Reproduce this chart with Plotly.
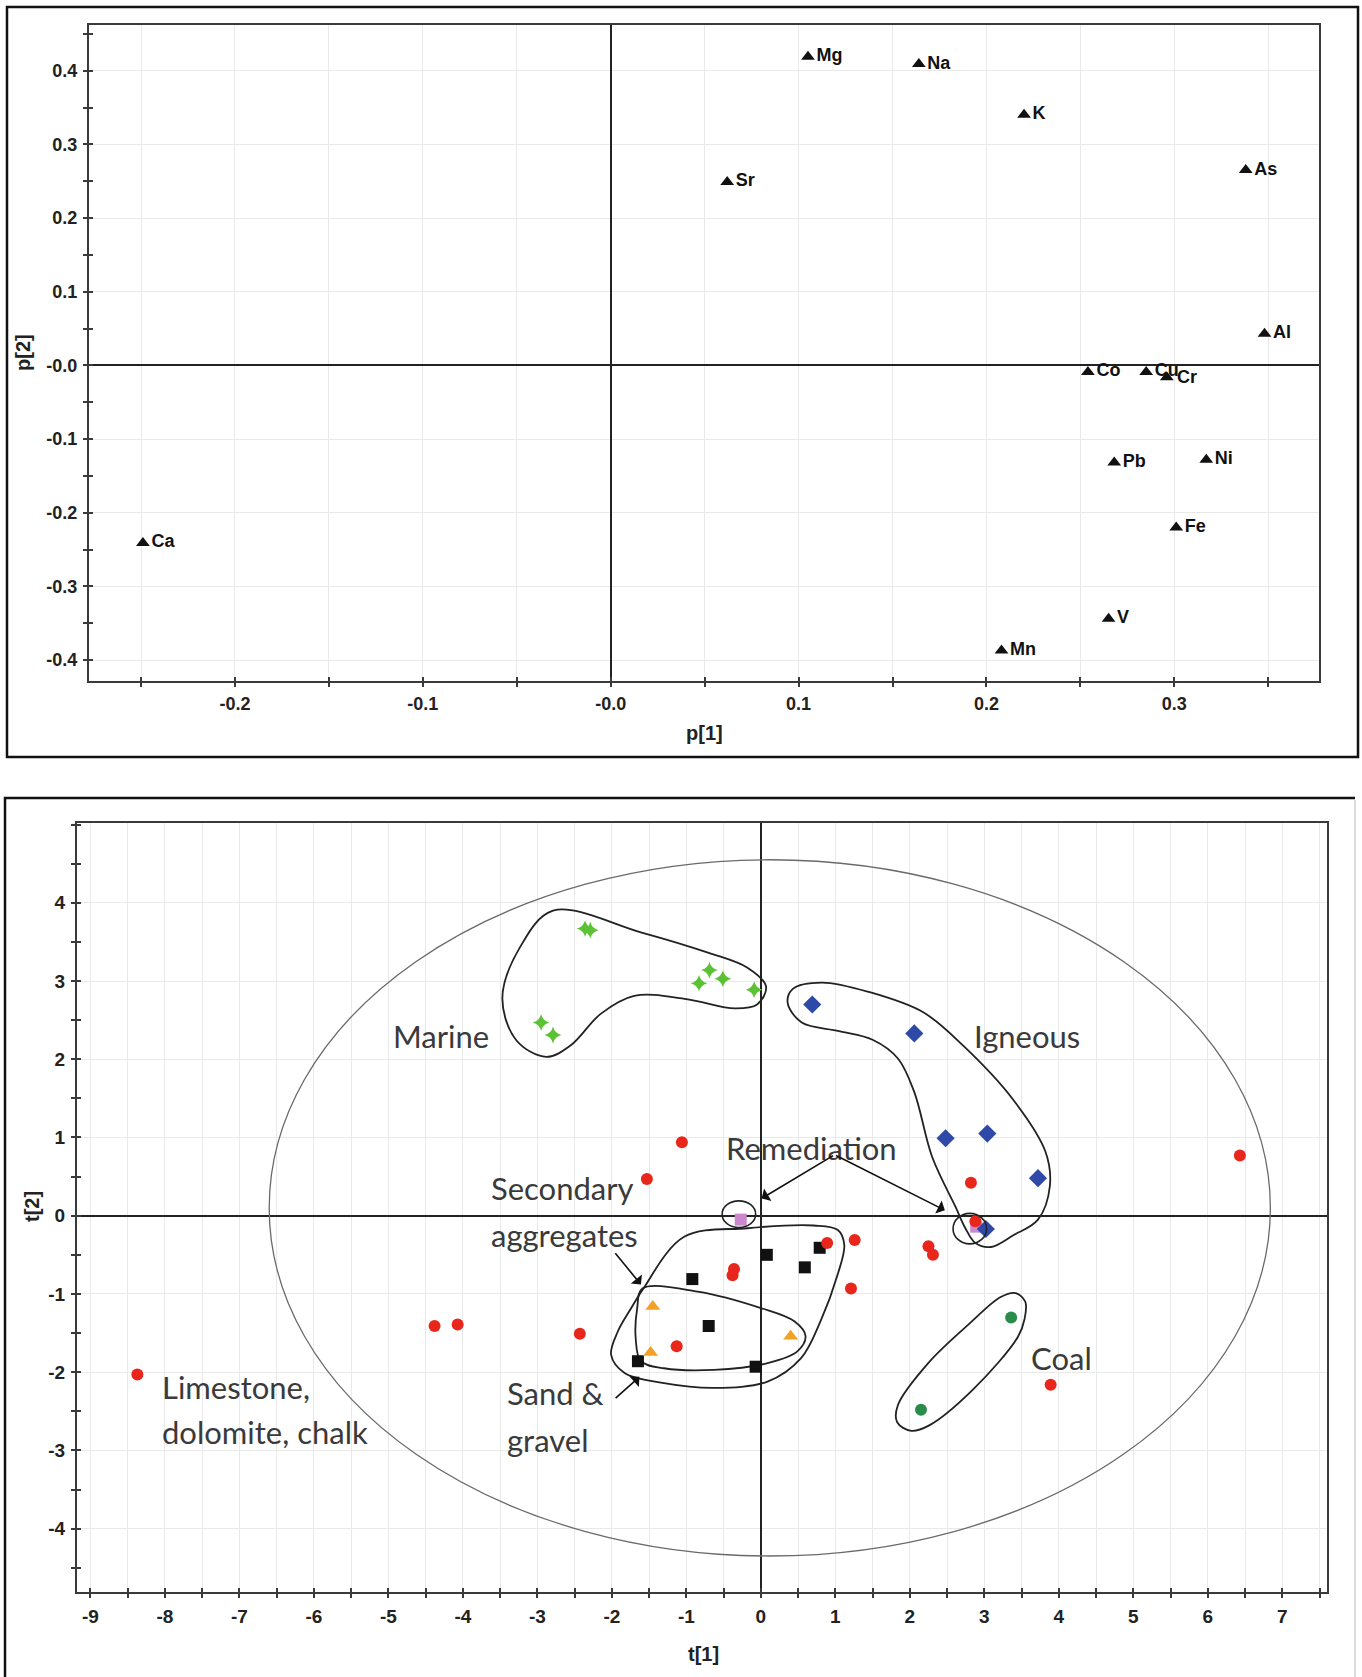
import plotly.graph_objects as go

# ---------------- Loadings (p[1] vs p[2]) ----------------
element_labels = ["Mg", "Na", "K", "Sr", "As", "Al", "Co", "Cu", "Cr", "Pb", "Ni", "Fe", "V", "Mn", "Ca"]
p1_values = [0.105, 0.164, 0.220, 0.062, 0.338, 0.348, 0.254, 0.285, 0.296, 0.268, 0.317, 0.301, 0.265, 0.208, -0.249]
p2_values = [0.419, 0.409, 0.340, 0.249, 0.265, 0.043, -0.009, -0.009, -0.016, -0.132, -0.128, -0.220, -0.344, -0.387, -0.241]

p_axis_ticks = [-0.4, -0.3, -0.2, -0.1, 0.0, 0.1, 0.2, 0.3, 0.4]
p_axis_ticktext = ["-0.4", "-0.3", "-0.2", "-0.1", "-0.0", "0.1", "0.2", "0.3", "0.4"]
p1_ticks = [-0.2, -0.1, 0.0, 0.1, 0.2, 0.3]
p1_ticktext = ["-0.2", "-0.1", "-0.0", "0.1", "0.2", "0.3"]

# ---------------- Scores (t[1] vs t[2]) by source group ----------------
limestone_t1 = [-8.37, -4.38, -4.07, -2.43, -1.13, -1.53, -1.06, -0.36, -0.38, 0.89, 1.26, 1.21, 2.25, 2.31, 2.82, 2.88, 6.43, 3.89]
limestone_t2 = [-2.03, -1.41, -1.39, -1.51, -1.67, 0.47, 0.94, -0.68, -0.76, -0.35, -0.31, -0.93, -0.39, -0.50, 0.42, -0.07, 0.77, -2.16]

marine_t1 = [-2.36, -2.29, -2.95, -2.79, -0.69, -0.83, -0.51, -0.09]
marine_t2 = [3.67, 3.65, 2.47, 2.31, 3.14, 2.97, 3.03, 2.89]

igneous_t1 = [0.69, 2.06, 2.48, 3.04, 3.72, 3.02]
igneous_t2 = [2.70, 2.33, 0.99, 1.05, 0.48, -0.17]

remediation_t1 = [-0.27, 2.89]
remediation_t2 = [-0.05, -0.14]

secondary_t1 = [-0.92, 0.08, 0.59, 0.79, -0.70, -1.65, -0.07]
secondary_t2 = [-0.81, -0.50, -0.66, -0.41, -1.41, -1.86, -1.93]

sand_t1 = [-1.45, -1.48, 0.40]
sand_t2 = [-1.16, -1.75, -1.54]

coal_t1 = [3.36, 2.15]
coal_t2 = [-1.30, -2.48]

t1_ticks = list(range(-9, 8))
t2_ticks = list(range(-4, 5))

# Hand-drawn group outlines (score-space vertices)
marine_outline = [(-2.79, 3.90), (-1.60, 3.62), (-0.70, 3.36), (-0.18, 3.17), (0.07, 2.93), (-0.05, 2.70),
                  (-0.35, 2.65), (-1.00, 2.77), (-1.70, 2.81), (-2.15, 2.58), (-2.55, 2.18), (-2.88, 2.03),
                  (-3.28, 2.24), (-3.47, 2.78), (-3.24, 3.42), (-2.79, 3.90)]
igneous_outline = [(0.36, 2.72), (0.43, 2.90), (0.82, 2.98), (1.45, 2.86), (2.18, 2.60), (2.72, 2.17),
                   (3.39, 1.48), (3.82, 0.82), (3.88, 0.38), (3.72, -0.05), (3.39, -0.25), (3.09, -0.40),
                   (2.88, -0.35), (2.74, -0.15), (2.62, 0.10), (2.30, 0.75), (2.06, 1.58), (1.84, 2.01),
                   (1.50, 2.25), (1.05, 2.36), (0.55, 2.47), (0.36, 2.72)]
secondary_outline = [(-1.03, -0.27), (-0.18, -0.16), (0.71, -0.125), (1.03, -0.18), (1.12, -0.37),
                     (1.03, -0.755), (0.80, -1.35), (0.54, -1.82), (0.09, -2.12), (-0.63, -2.20),
                     (-1.30, -2.14), (-1.83, -2.01), (-2.01, -1.78), (-1.92, -1.48), (-1.74, -1.18),
                     (-1.59, -0.95), (-1.03, -0.27)]
sand_outline = [(-1.59, -0.93), (-0.85, -0.97), (0.00, -1.18), (0.45, -1.35), (0.60, -1.54), (0.49, -1.735),
                (0.09, -1.885), (-0.63, -1.97), (-1.30, -1.95), (-1.61, -1.86), (-1.68, -1.57),
                (-1.66, -1.18), (-1.59, -0.93)]
coal_outline = [(3.42, -0.99), (3.55, -1.10), (3.54, -1.32), (3.45, -1.55), (2.85, -2.22), (2.26, -2.68),
                (2.02, -2.75), (1.83, -2.64), (1.84, -2.42), (2.25, -1.88), (2.80, -1.38), (3.22, -1.04),
                (3.42, -0.99)]
remediation_rings = [(-0.52, -0.07, -0.15, 0.19), (2.58, 3.03, -0.36, 0.03)]
hotelling_ellipse = (-6.60, 6.84, -4.35, 4.55)

# ---------------- Figure geometry (pixels) ----------------
W, H = 1362, 1677


def px(x):
    return x / W


def py(y):
    return 1 - y / H


TOP_PLOT = (89, 1319, 25, 681)
BOT_PLOT = (77, 1327, 823, 1592)

BOLD = "Liberation Sans, Arial, sans-serif"
top_tick_font = dict(family=BOLD, size=18, color="#222", weight="bold")
bot_tick_font = dict(family=BOLD, size=19, color="#222", weight="bold")
point_font = dict(family=BOLD, size=18, color="#111", weight="bold")
label_font = dict(family="Lato, sans-serif", size=31, color="#3a3a3a")
GRID = "#e9e9e9"
AXIS = "#3a3a3a"

fig = go.Figure()

# loadings; the "Cr" label sits tight against "Cu", so it is placed as an annotation below
cr_idx = element_labels.index("Cr")
trace_labels = ["" if i == cr_idx else lab for i, lab in enumerate(element_labels)]
fig.add_trace(go.Scatter(
    x=p1_values, y=p2_values, mode="markers+text", text=trace_labels,
    textposition="middle right", textfont=point_font,
    marker=dict(symbol="triangle-up", size=12, color="#111"),
    xaxis="x", yaxis="y", showlegend=False, cliponaxis=False))

# group outlines as spline lines
for outline in [marine_outline, igneous_outline, secondary_outline, sand_outline, coal_outline]:
    fig.add_trace(go.Scatter(
        x=[p[0] for p in outline], y=[p[1] for p in outline], mode="lines",
        line=dict(color="#222", width=1.8, shape="spline", smoothing=1.0),
        xaxis="x2", yaxis="y2", showlegend=False, hoverinfo="skip"))

groups = [
    (secondary_t1, secondary_t2, "square", "#111111", 12),
    (sand_t1, sand_t2, "triangle-up", "#f2a124", 13),
    (remediation_t1, remediation_t2, "square", "#cc88cc", 12),
    (igneous_t1, igneous_t2, "diamond", "#2f49a8", 14),
    (marine_t1, marine_t2, "star-diamond", "#5cc235", 12),
    (coal_t1, coal_t2, "circle", "#2a8c4a", 12),
    (limestone_t1, limestone_t2, "circle", "#e8261b", 12),
]
for gx, gy, sym, col, size in groups:
    fig.add_trace(go.Scatter(
        x=gx, y=gy, mode="markers", marker=dict(symbol=sym, size=size, color=col, line=dict(width=0)),
        xaxis="x2", yaxis="y2", showlegend=False))

# empty traces so the overlay axes (inward tick halves) are drawn
fig.add_trace(go.Scatter(x=[None], y=[None], xaxis="x3", yaxis="y3", showlegend=False, hoverinfo="skip"))
fig.add_trace(go.Scatter(x=[None], y=[None], xaxis="x4", yaxis="y4", showlegend=False, hoverinfo="skip"))

top_xr = [-0.2777, 0.377]
top_yr = [-0.4285, 0.462]
bot_xr = [-9.18, 7.60]
bot_yr = [-4.81, 5.02]


def base_axis(domain, rng, tickvals, ticktext, minor_dtick, minor_grid, anchor, standoff, font):
    return dict(
        domain=domain, range=rng, anchor=anchor, tickmode="array", tickvals=tickvals, ticktext=ticktext,
        ticks="outside", ticklen=4, tickwidth=1.5, tickcolor=AXIS, tickfont=font,
        ticklabelstandoff=standoff,
        showgrid=True, gridcolor=GRID, gridwidth=1,
        minor=dict(tickmode="linear", tick0=0, dtick=minor_dtick, ticks="outside", ticklen=4,
                   tickwidth=1.5, tickcolor=AXIS, showgrid=minor_grid, gridcolor=GRID, gridwidth=1),
        zeroline=True, zerolinecolor="#222", zerolinewidth=1.6,
        showline=True, linecolor=AXIS, linewidth=2, mirror=True, fixedrange=True)


def inner_axis(overlay, anchor, rng, dtick):
    return dict(overlaying=overlay, anchor=anchor, range=rng, tickmode="linear", tick0=0, dtick=dtick,
                ticks="inside", ticklen=4, tickwidth=1.5, tickcolor=AXIS, showticklabels=False,
                showgrid=False, zeroline=False, showline=False, fixedrange=True)


layout = dict(
    width=W, height=H, margin=dict(l=0, r=0, t=0, b=0),
    paper_bgcolor="white", plot_bgcolor="white", showlegend=False,
    xaxis=base_axis([px(TOP_PLOT[0]), px(TOP_PLOT[1])], top_xr, p1_ticks, p1_ticktext, 0.05, True, "y", 1, top_tick_font),
    yaxis=base_axis([py(TOP_PLOT[3]), py(TOP_PLOT[2])], top_yr, p_axis_ticks, p_axis_ticktext, 0.05, False, "x", 2, top_tick_font),
    xaxis2=base_axis([px(BOT_PLOT[0]), px(BOT_PLOT[1])], bot_xr, t1_ticks, [str(v) for v in t1_ticks], 0.5, True, "y2", 2, bot_tick_font),
    yaxis2=base_axis([py(BOT_PLOT[3]), py(BOT_PLOT[2])], bot_yr, t2_ticks, [str(v) for v in t2_ticks], 0.5, False, "x2", 2, bot_tick_font),
    xaxis3=inner_axis("x", "y3", top_xr, 0.05),
    yaxis3=inner_axis("y", "x3", top_yr, 0.05),
    xaxis4=inner_axis("x2", "y4", bot_xr, 0.5),
    yaxis4=inner_axis("y2", "x4", bot_yr, 0.5),
)
fig.update_layout(**layout)

shapes = []
# panel frames
shapes.append(dict(type="rect", xref="paper", yref="paper", x0=px(7), x1=px(1358), y0=py(757), y1=py(7),
                   line=dict(color="#111", width=2.5), layer="above"))
shapes.append(dict(type="path", xref="paper", yref="paper",
                   path=f"M {px(5)},{py(1700)} L {px(5)},{py(798)} L {px(1355)},{py(798)}",
                   line=dict(color="#111", width=2.5), layer="above"))
shapes.append(dict(type="line", xref="paper", yref="paper", x0=px(1355), x1=px(1355), y0=py(800), y1=py(1700),
                   line=dict(color="#d0d0d0", width=1.5)))
# Hotelling T2 ellipse
ex0, ex1, ey0, ey1 = hotelling_ellipse
shapes.append(dict(type="circle", xref="x2", yref="y2", x0=ex0, x1=ex1, y0=ey0, y1=ey1,
                   line=dict(color="#6a6a6a", width=1.3), layer="above"))
# small remediation rings
for rx0, rx1, ry0, ry1 in remediation_rings:
    shapes.append(dict(type="circle", xref="x2", yref="y2", x0=rx0, x1=rx1, y0=ry0, y1=ry1,
                       line=dict(color="#222", width=1.6), layer="above"))
fig.update_layout(shapes=shapes)

annotations = []
# "Cr" loading label, nudged right of its marker
annotations.append(dict(text="Cr", xref="x", yref="y", x=p1_values[cr_idx], y=p2_values[cr_idx],
                        xanchor="left", yanchor="middle", xshift=9, showarrow=False, font=point_font,
                        borderpad=0))
# axis titles
title_font = dict(family=BOLD, size=20, color="#222", weight="bold")
annotations += [
    dict(text="p[1]", xref="paper", yref="paper", x=px(704), y=py(733), showarrow=False, font=title_font),
    dict(text="p[2]", xref="paper", yref="paper", x=px(23), y=py(353), xanchor="center", yanchor="middle",
         showarrow=False, font=title_font, textangle=-90),
    dict(text="t[1]", xref="paper", yref="paper", x=px(703), y=py(1667), showarrow=False, font=title_font),
    dict(text="t[2]", xref="paper", yref="paper", x=px(32), y=py(1207), xanchor="center", yanchor="middle",
         showarrow=False, font=title_font, textangle=-90),
]
# group labels
group_labels = [
    ("Marine", -4.97, 2.30),
    ("Igneous", 2.83, 2.30),
    ("Remediation", -0.50, 0.87),
    ("Secondary", -3.65, 0.35),
    ("aggregates", -3.65, -0.25),
    ("Sand &", -3.44, -2.27),
    ("gravel", -3.44, -2.87),
    ("Limestone,", -8.07, -2.19),
    ("dolomite, chalk", -8.07, -2.77),
    ("Coal", 3.60, -1.82),
]
for txt, gx, gy in group_labels:
    annotations.append(dict(text=txt, xref="x2", yref="y2", x=gx, y=gy, xanchor="left", yanchor="middle",
                            showarrow=False, font=label_font))
# pointer arrows (tail -> head)
arrows = [
    ((0.99, 0.78), (0.01, 0.22)),
    ((0.99, 0.78), (2.47, 0.07)),
    ((-1.97, -0.46), (-1.61, -0.88)),
    ((-1.97, -2.35), (-1.63, -2.06)),
]
for (tx, ty), (hx, hy) in arrows:
    annotations.append(dict(text="", xref="x2", yref="y2", axref="x2", ayref="y2", x=hx, y=hy, ax=tx, ay=ty,
                            showarrow=True, arrowhead=1, arrowsize=1.5, arrowwidth=1.6, arrowcolor="#111",
                            standoff=0, startstandoff=0))
fig.update_layout(annotations=annotations)

fig.write_html("out.html")
